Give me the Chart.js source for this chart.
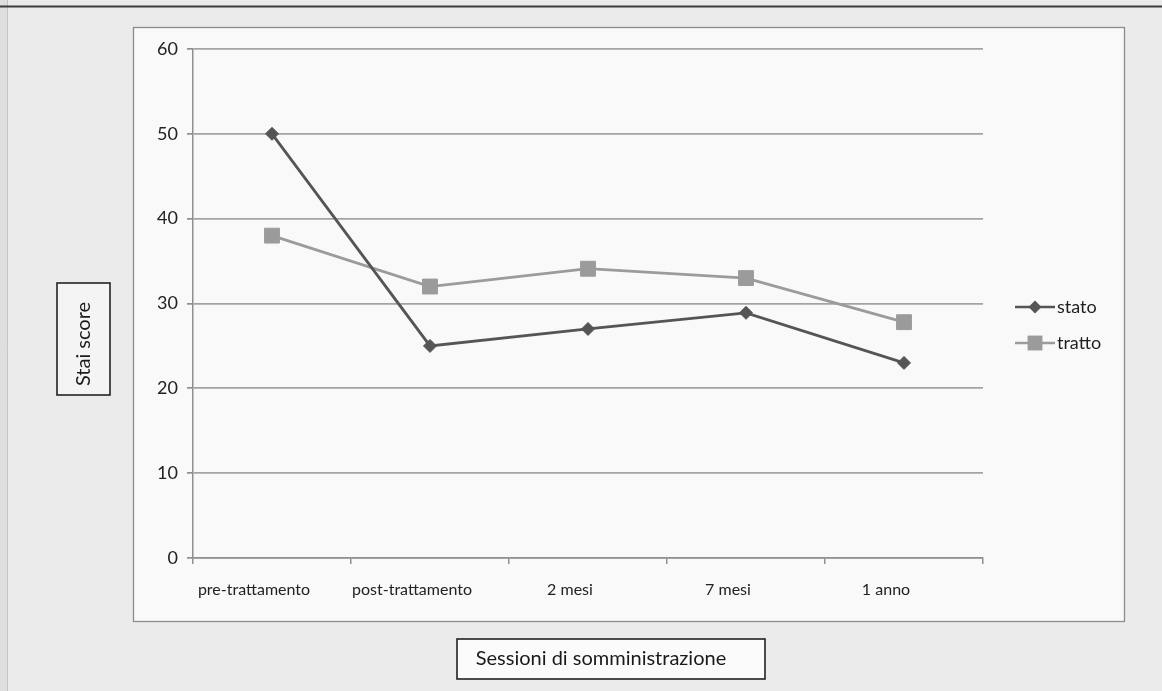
<!DOCTYPE html>
<html>
<head>
<meta charset="utf-8">
<script src="https://cdn.jsdelivr.net/npm/chart.js@4/dist/chart.umd.min.js"></script>
<style>
  html, body { margin: 0; padding: 0; background: #ebebeb; }
  #wrap { position: relative; width: 1162px; height: 691px; }
  canvas { display: block; }
</style>
</head>
<body>
<div id="wrap"><canvas id="c" width="1162" height="691"></canvas></div>
<script>
// Sessions and mean STAI scores
const sessions = ['pre-trattamento', 'post-trattamento', '2 mesi', '7 mesi', '1 anno'];
const stato = [50, 25, 27, 28.9, 23];
const tratto = [38, 32, 34.1, 33, 27.8];
const yTickValues = [0, 10, 20, 30, 40, 50, 60];
const yTitle = 'Stai score';
const xTitle = 'Sessioni di somministrazione';

const FONT = "Lato, 'Open Sans', 'DejaVu Sans', sans-serif";
Chart.defaults.font.family = FONT;
Chart.defaults.color = '#222';

const COL_STATO = '#555555';
const COL_TRATTO = '#9b9b9b';

function marker(ctx, style, x, y, r, color) {
  ctx.save();
  ctx.fillStyle = color;
  ctx.beginPath();
  if (style === 'rectRot') {
    ctx.moveTo(x, y - r); ctx.lineTo(x + r, y); ctx.lineTo(x, y + r); ctx.lineTo(x - r, y);
  } else {
    const s = r * Math.SQRT1_2;
    ctx.rect(x - s, y - s, 2 * s, 2 * s);
  }
  ctx.closePath();
  ctx.fill();
  ctx.restore();
}

// Page frame, chart box, axis title boxes and legend
const framePlugin = {
  id: 'frame',
  beforeDraw(chart) {
    const ctx = chart.ctx;
    ctx.save();
    // left page edge
    ctx.fillStyle = '#dedede';
    ctx.fillRect(0, 0, 7, chart.height);
    ctx.strokeStyle = '#c4c4c4';
    ctx.lineWidth = 1;
    ctx.beginPath(); ctx.moveTo(7.5, 0); ctx.lineTo(7.5, chart.height); ctx.stroke();
    // rule across the top
    ctx.strokeStyle = '#3c3c3c';
    ctx.lineWidth = 2;
    ctx.beginPath(); ctx.moveTo(0, 6.5); ctx.lineTo(chart.width, 6.5); ctx.stroke();
    // chart box
    ctx.fillStyle = '#f9f9f9';
    ctx.fillRect(133, 27, 991, 594);
    ctx.strokeStyle = '#8c8c8c';
    ctx.lineWidth = 1.3;
    ctx.strokeRect(133.5, 27.5, 991, 594);
    ctx.restore();
  },
  afterDraw(chart) {
    const ctx = chart.ctx;
    const area = chart.chartArea;
    ctx.save();
    // y axis title in a box
    ctx.fillStyle = '#f4f4f4';
    ctx.fillRect(57, 283, 53, 112);
    ctx.strokeStyle = '#222';
    ctx.lineWidth = 1.6;
    ctx.strokeRect(57, 283, 53, 112);
    ctx.translate(84, 344);
    ctx.rotate(-Math.PI / 2);
    ctx.fillStyle = '#1a1a1a';
    ctx.font = '20px ' + FONT;
    ctx.textAlign = 'center';
    ctx.textBaseline = 'middle';
    ctx.fillText(yTitle, 0, 0);
    ctx.restore();

    // x axis title in a box
    ctx.save();
    ctx.fillStyle = '#fbfbfb';
    ctx.fillRect(457, 639, 308, 40);
    ctx.strokeStyle = '#222';
    ctx.lineWidth = 1.6;
    ctx.strokeRect(457, 639, 308, 40);
    ctx.fillStyle = '#1a1a1a';
    ctx.font = '20px ' + FONT;
    ctx.textAlign = 'center';
    ctx.textBaseline = 'middle';
    ctx.fillText(xTitle, 601, 659);
    ctx.restore();

    // legend
    ctx.save();
    const lx = area.right + 32;
    const ly0 = area.top + 258;
    chart.data.datasets.forEach((ds, i) => {
      const y = ly0 + i * 36;
      ctx.strokeStyle = ds.borderColor;
      ctx.lineWidth = 2.6;
      ctx.beginPath(); ctx.moveTo(lx, y); ctx.lineTo(lx + 40, y); ctx.stroke();
      marker(ctx, ds.pointStyle, lx + 20, y, ds.pointStyle === 'rect' ? 10.5 : 6.5, ds.pointBackgroundColor);
      ctx.fillStyle = '#1f1f1f';
      ctx.font = '18px ' + FONT;
      ctx.textAlign = 'left';
      ctx.textBaseline = 'middle';
      ctx.fillText(ds.label, lx + 42, y);
    });
    ctx.restore();
  }
};

new Chart(document.getElementById('c'), {
  type: 'line',
  data: {
    labels: sessions,
    datasets: [
      {
        label: 'stato',
        data: stato,
        borderColor: COL_STATO,
        backgroundColor: COL_STATO,
        pointBackgroundColor: COL_STATO,
        pointBorderColor: COL_STATO,
        borderWidth: 2.8,
        pointStyle: 'rectRot',
        pointRadius: 6.5,
        pointBorderWidth: 1,
        tension: 0
      },
      {
        label: 'tratto',
        data: tratto,
        borderColor: COL_TRATTO,
        backgroundColor: COL_TRATTO,
        pointBackgroundColor: COL_TRATTO,
        pointBorderColor: COL_TRATTO,
        borderWidth: 2.8,
        pointStyle: 'rect',
        pointRadius: 10.5,
        pointBorderWidth: 1,
        tension: 0
      }
    ]
  },
  options: {
    responsive: false,
    animation: false,
    events: [],
    layout: { padding: { left: 0, top: 49, right: 179, bottom: 0 } },
    plugins: {
      legend: { display: false },
      tooltip: { enabled: false }
    },
    scales: {
      x: {
        type: 'category',
        offset: true,
        afterFit(scale) { scale.height = 133; },
        grid: {
          offset: true,
          drawOnChartArea: false,
          drawTicks: true,
          tickLength: 6,
          color: '#8f8f8f',
          lineWidth: 1.5
        },
        border: { display: true, color: '#8f8f8f', width: 1.5 },
        ticks: {
          padding: 16,
          labelOffset: -18,
          maxRotation: 0,
          autoSkip: false,
          font: { size: 16 },
          color: '#222'
        }
      },
      y: {
        min: 0,
        max: 60,
        afterFit(scale) { scale.width = 193; },
        afterBuildTicks(scale) { scale.ticks = yTickValues.map(v => ({ value: v })); },
        grid: {
          color: '#a3a3a3',
          lineWidth: 1.7,
          drawTicks: true,
          tickLength: 6,
          tickColor: '#8f8f8f'
        },
        border: { display: true, color: '#8f8f8f', width: 1.5 },
        ticks: {
          padding: 9,
          font: { size: 18 },
          color: '#222'
        }
      }
    }
  },
  plugins: [framePlugin]
});
</script>
</body>
</html>
